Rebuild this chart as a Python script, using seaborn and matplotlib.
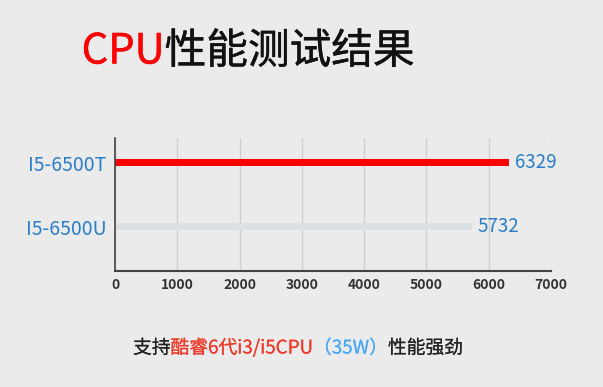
import matplotlib
matplotlib.use("Agg")
import matplotlib.pyplot as plt
import matplotlib.patheffects as pe
import seaborn as sns
import pandas as pd

categories = ["I5-6500T", "I5-6500U"]
scores = [6329, 5732]
bar_colors = ["#ff0000", "#dde0e3"]
xticks = [0, 1000, 2000, 3000, 4000, 5000, 6000, 7000]

sns.set_theme(style="white")
plt.rcParams['font.family'] = ['Noto Sans CJK SC', 'DejaVu Sans']

df = pd.DataFrame({"cpu": categories, "score": scores})

fig = plt.figure(figsize=(6.03, 3.87), dpi=100, facecolor="#ebebeb")
ax = fig.add_axes([115/603, 1 - 271/387, (551-115)/603, (271-138)/387])
ax.set_facecolor("#ebebeb")

sns.barplot(data=df, x="score", y="cpu", hue="cpu", palette=bar_colors,
            legend=False, ax=ax, width=0.11, orient="h", saturation=1,
            linewidth=0, edgecolor="none")

ax.set_xlim(0, 7000)
ax.set_xticks(xticks)
ax.set_xticklabels([str(t) for t in xticks], fontsize=10, color="#333333", fontweight="bold")
ax.set_ylim(1.69, -0.39)
ax.set_xlabel("")
ax.set_ylabel("")
ax.tick_params(axis="y", labelsize=14, labelcolor="#2a7ec8", length=0, pad=6)
ax.tick_params(axis="x", length=0, pad=5)
ax.grid(axis="x", color="#cfcfcf", linewidth=1)
ax.set_axisbelow(True)
for s in ["top", "right"]:
    ax.spines[s].set_visible(False)
ax.spines["left"].set_color("#444444")
ax.spines["bottom"].set_color("#444444")
ax.spines["left"].set_linewidth(1.2)
ax.spines["bottom"].set_linewidth(1.5)

for i, v in enumerate(scores):
    ax.text(v + 90, i, str(v), va="center", ha="left", fontsize=13.5, color="#2a7ec8")

def colored_line(parts, x_center, y, fontsize, stroke):
    fig.canvas.draw()
    r = fig.canvas.get_renderer()
    texts = []
    widths = []
    for s, c in parts:
        t = fig.text(0, y, s, color=c, fontsize=fontsize, va="center", ha="left",
                     path_effects=[pe.withStroke(linewidth=stroke, foreground=c)])
        bb = t.get_window_extent(renderer=r)
        texts.append(t)
        widths.append(bb.width / fig.bbox.width)
    total = sum(widths)
    x = x_center - total / 2
    for t, w in zip(texts, widths):
        t.set_x(x)
        x += w

colored_line([("CPU", "#ff0000"), ("性能测试结果", "#111111")], 248/603, 1 - 52/387, 30, 0.3)
colored_line([("支持", "#222222"), ("酷睿6代i3/i5CPU", "#f03a2a"), ("（35W）", "#4aa8f5"), ("性能强劲", "#222222")],
             298/603, 1 - 348/387, 13.5, 0.1)

fig.savefig("out.png", dpi=100, facecolor=fig.get_facecolor())
